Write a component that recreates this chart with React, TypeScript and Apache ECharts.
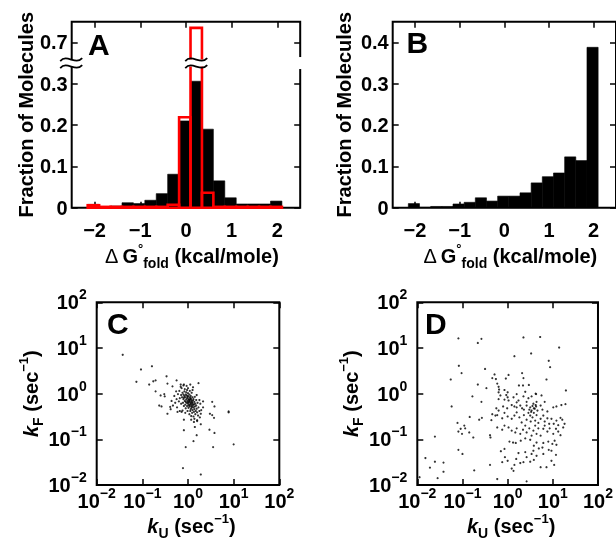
import React, { useEffect, useRef } from "react";
import * as echarts from "echarts";

// ---------------- data ----------------
const binEdges = [-2.15, -1.9, -1.65, -1.4, -1.15, -0.9, -0.65, -0.4, -0.15, 0.1, 0.35, 0.6, 0.85, 1.1, 1.35, 1.6, 1.85, 2.1];
const fracA_black = [0.008, 0.002, 0.004, 0.012, 0.01, 0.018, 0.034, 0.081, 0.21, 0.306, 0.19, 0.065, 0.024, 0.009, 0.009, 0.009, 0.016];
const fracA_red = [0.006, 0.002, 0.002, 0.002, 0.002, 0.002, 0.002, 0.007, 0.219, 0.735, 0.036, 0.002, 0.002, 0.002, 0.002, 0.002, 0.002];
const fracB = [0.01, 0.001, 0.003, 0.003, 0.009, 0.013, 0.024, 0.016, 0.028, 0.028, 0.036, 0.06, 0.075, 0.084, 0.123, 0.114, 0.388];
const xTickVals = [-2, -1, 0, 1, 2];
const yTickValsA = [0, 0.1, 0.2, 0.3, 0.7];
const yTickValsB = [0, 0.1, 0.2, 0.3, 0.4];
const BREAK_AT = 0.35; // axis A is broken just above 0.35
const BREAK_SHIFT = 0.3; // values above the break are plotted 0.3 lower

// [log10 kU, log10 kF]
const logRatesC: number[][] = [
  [-1.43, 0.85], [-0.79, 0.6], [-1.03, 0.53], [-1.13, 0.26], [-0.76, 0.27], [-0.71, 0.29], [-0.85, 0.2], [-0.47, 0.38],
  [-0.25, 0.29], [-0.34, 0.16], [-0.45, 0.22], [-0.16, 0.2], [-0.09, 0.2], [0.23, 0.23], [-0.71, 0.05], [-0.6, -0.04],
  [-0.52, -0.01], [-0.51, -0.06], [-0.63, -0.26], [-0.58, -0.28], [-0.39, -0.29], [-0.38, -0.34], [-0.45, -0.44], [-0.23, -0.4],
  [-0.14, -0.4], [0.33, -0.17], [0.53, -0.18], [0.58, -0.28], [0.48, -0.44], [0.53, -0.47], [0.57, -0.53], [0.89, -0.39],
  [0.89, -0.41], [-0.09, -0.57], [0.07, -0.57], [0.13, -0.62], [0.2, -0.6], [0.28, -0.67], [0.15, -0.73], [-0.09, -0.8],
  [0.47, -0.79], [0.58, -0.86], [0.19, -0.91], [0.12, -1.04], [-0.05, -1.17], [0.55, -1.17], [1.0, -1.11], [-0.11, -1.63],
  [0.28, -1.77],
  [-0.05, -0.02], [0.0, -0.05], [0.03, -0.08], [0.06, -0.1], [-0.02, -0.1], [0.01, -0.12], [0.04, -0.14], [0.08, -0.16],
  [-0.04, -0.13], [-0.01, -0.16], [0.02, -0.18], [0.05, -0.2], [0.09, -0.22], [-0.06, -0.08], [-0.08, -0.05], [-0.03, -0.2],
  [0.0, -0.22], [0.03, -0.24], [0.07, -0.26], [0.11, -0.25], [0.12, -0.3], [0.08, -0.31], [0.04, -0.28], [0.15, -0.28],
  [0.14, -0.34], [0.1, -0.36], [0.06, -0.34], [0.17, -0.38], [0.13, -0.4], [0.19, -0.33], [-0.1, -0.02], [-0.12, 0.02],
  [-0.08, 0.05], [-0.04, 0.03], [0.0, 0.01], [0.03, -0.02], [0.06, -0.05], [0.1, -0.08], [0.12, -0.12], [0.14, -0.18],
  [0.1, -0.19], [0.16, -0.22], [-0.07, -0.16], [-0.1, -0.12], [-0.13, -0.08], [-0.15, -0.03], [-0.11, -0.2], [-0.06, -0.24],
  [-0.02, -0.27], [0.01, -0.31], [0.05, -0.38], [0.09, -0.42], [0.02, -0.14], [0.05, -0.11], [-0.01, -0.07], [0.07, -0.13],
  [0.04, -0.17], [0.0, -0.19], [-0.03, -0.04], [0.08, -0.19], [0.11, -0.15], [0.13, -0.23], [0.06, -0.23], [-0.05, -0.18],
  [-0.09, -0.09], [0.02, -0.26], [0.09, -0.28], [0.18, -0.26], [0.2, -0.41], [0.16, -0.45], [0.22, -0.48], [0.12, -0.5],
  [0.25, -0.38], [0.23, -0.3], [0.18, -0.14], [0.21, -0.2], [0.15, -0.07], [0.08, 0.02], [0.04, 0.06], [-0.02, 0.08],
  [-0.07, 0.1], [-0.14, 0.12], [-0.19, 0.06], [-0.22, -0.01], [-0.18, -0.1], [-0.2, -0.17], [-0.15, -0.22], [-0.09, -0.27],
  [-0.05, -0.32], [-0.01, -0.38], [0.03, -0.45], [0.07, -0.49], [0.14, -0.55], [0.2, -0.58], [0.26, -0.52], [0.28, -0.44],
  [-0.25, -0.12], [-0.28, -0.2], [-0.3, -0.05], [-0.26, 0.05], [-0.16, 0.15], [-0.1, 0.18], [0.0, 0.12], [0.1, 0.08],
  [0.19, -0.03], [0.25, -0.14], [0.27, -0.22], [-0.33, -0.26], [-0.36, -0.16], [-0.24, -0.3], [0.29, -0.36], [0.33, -0.3],
  [0.11, 0.14], [-0.03, 0.17], [0.05, 0.2], [-0.12, -0.37], [-0.18, -0.38], [-0.06, -0.42],
];

const logRatesD: number[][] = [
  [-1.09, 1.21], [-0.58, 1.2], [-0.66, 1.11], [0.35, 1.23], [0.72, 1.24], [1.14, 1.01], [0.15, 0.82], [0.52, 0.88],
  [0.91, 0.72], [0.94, 0.58], [-1.08, 0.61], [-1.02, 0.45], [-1.26, 0.31], [-0.5, 0.54], [-0.29, 0.42], [-0.26, 0.32],
  [-0.34, 0.34], [0.02, 0.41], [-0.04, 0.33], [0.32, 0.45], [0.35, 0.34], [0.86, 0.31], [-0.66, 0.2], [-0.47, 0.12],
  [-0.23, 0.22], [-0.2, 0.15], [-0.19, 0.09], [-0.2, 0.03], [-0.07, 0.08], [0.0, 0.03], [0.25, 0.18], [0.34, 0.18],
  [0.47, 0.19], [0.39, 0.04], [0.62, 0.0], [1.29, 0.07],
  [-0.16, -0.04], [-0.03, -0.03], [0.0, -0.08], [-0.2, -0.12], [-0.07, -0.13], [0.02, -0.15], [0.13, -0.08], [0.2, -0.01],
  [0.35, -0.06], [0.24, -0.15], [0.46, -0.1], [0.53, -0.06], [0.63, -0.01], [0.75, -0.04], [-0.78, -0.06], [-0.58, -0.18],
  [0.2, -0.19], [0.42, -0.18], [0.64, -0.18], [0.82, -0.18],
  [-1.24, -0.28], [-0.25, -0.32], [-0.2, -0.37], [-0.1, -0.28], [-0.01, -0.32], [0.09, -0.25], [0.15, -0.28], [0.2, -0.3],
  [0.28, -0.26], [0.32, -0.32], [0.36, -0.35], [0.42, -0.26], [0.5, -0.3], [0.53, -0.37], [0.58, -0.32], [0.63, -0.28],
  [0.66, -0.37], [0.73, -0.26], [0.77, -0.35], [0.88, -0.39], [1.01, -0.3], [1.08, -0.28], [1.19, -0.25], [1.28, -0.23],
  [-0.34, -0.45], [-0.27, -0.48], [0.55, -0.27], [0.6, -0.33], [0.52, -0.4], [0.57, -0.22], [0.48, -0.35], [0.62, -0.25],
  [-0.84, -0.51], [-0.63, -0.57], [-0.57, -0.53], [-0.36, -0.58], [-0.23, -0.47], [-0.12, -0.54], [-0.07, -0.42], [0.0, -0.5],
  [0.09, -0.55], [0.15, -0.48], [0.2, -0.41], [0.26, -0.52], [0.31, -0.63], [0.36, -0.47], [0.42, -0.57], [0.46, -0.42],
  [0.5, -0.48], [0.51, -0.61], [0.55, -0.52], [0.58, -0.42], [0.61, -0.59], [0.64, -0.47], [0.68, -0.64], [0.73, -0.55],
  [0.79, -0.48], [0.82, -0.61], [0.88, -0.54], [0.92, -0.66], [0.97, -0.55], [1.02, -0.66], [1.08, -0.59], [1.12, -0.69],
  [1.17, -0.53], [1.21, -0.57], [1.26, -0.66], [-1.11, -0.64], [-0.96, -0.7],
  [-1.04, -0.77], [-0.94, -0.76], [-1.09, -0.83], [-1.01, -0.88], [-0.85, -0.85], [-0.76, -0.96], [-0.39, -0.91], [-0.38, -0.96],
  [-0.23, -0.74], [-0.12, -0.79], [-0.07, -0.7], [0.02, -0.74], [0.09, -0.81], [0.17, -0.85], [0.2, -0.76], [0.28, -0.88],
  [0.34, -0.79], [0.39, -0.7], [0.42, -0.85], [0.48, -0.76], [0.53, -0.92], [0.57, -0.81], [0.61, -0.7], [0.64, -0.88],
  [0.68, -0.76], [0.73, -0.92], [0.79, -0.77], [0.82, -0.7], [0.88, -0.83], [0.93, -0.76], [1.01, -0.88], [1.07, -0.77],
  [1.12, -0.83], [1.17, -0.91], [1.23, -0.74], [-1.61, -0.94],
  [0.04, -1.05], [0.12, -1.07], [0.18, -1.08], [0.29, -1.03], [0.39, -0.98], [0.5, -1.01], [0.58, -1.14], [0.64, -1.07],
  [0.69, -1.2], [0.77, -1.18], [0.79, -1.08], [0.9, -1.05], [0.99, -1.1], [1.04, -1.03], [1.08, -1.12], [0.57, -1.25],
  [0.79, -1.32], [0.91, -1.23], [0.97, -1.25], [1.07, -1.34], [0.24, -1.3], [0.39, -1.28], [0.53, -1.32], [-1.09, -1.23],
  [-1.0, -1.32], [-0.15, -1.26], [-0.07, -1.21],
  [-1.82, -1.41], [-1.61, -1.49], [-1.42, -1.51], [-1.72, -1.62], [-1.42, -1.71], [-0.39, -1.56], [-0.06, -1.39], [0.0, -1.47],
  [-0.12, -1.5], [0.15, -1.56], [0.09, -1.64], [0.19, -1.43], [0.28, -1.52], [0.35, -1.5], [0.42, -1.39], [0.5, -1.49],
  [0.58, -1.45], [0.64, -1.36], [0.73, -1.61], [0.86, -1.61], [0.97, -1.47], [1.03, -1.56], [-0.74, -1.68], [0.13, -1.69],
  [-1.95, -1.83], [-1.55, -1.85], [-0.23, -1.87], [0.42, -1.92],
];

// ---------------- helpers ----------------
const FONT = "'Liberation Sans', Arial, Helvetica, sans-serif";
const toDisp = (v: number) => (v > BREAK_AT ? v - BREAK_SHIFT : v);
const fromDisp = (d: number) => (d > BREAK_AT ? d + BREAK_SHIFT : d);
const fmtMinus = (v: number) => (v < 0 ? "\u2212" + Math.abs(v) : String(v));
const fmtNum = (v: number) => (Math.abs(v) < 1e-9 ? "0" : v.toFixed(1));
const fmtFracA = (d: number) => fmtNum(fromDisp(d));
const fmtLog = (v: number) => {
  const e = Math.round(Math.log10(v));
  return `{m|10}{s|${e < 0 ? "\u2212" + -e : e}}`;
};
const toRates = (arr: number[][]) => arr.map(([a, b]) => [Math.pow(10, a), Math.pow(10, b)]);
const bins = (vals: number[], tf: (v: number) => number) =>
  vals.map((v, i) => [binEdges[i], binEdges[i + 1], tf(v)]);

const tickStyle = { color: "#000", width: 1.5 };
const lbl = { fontSize: 20, fontWeight: "bold" as const, color: "#000", fontFamily: FONT };
const logRich = {
  m: { fontSize: 20, fontWeight: "bold", lineHeight: 30, color: "#000", fontFamily: FONT },
  s: { fontSize: 14, fontWeight: "bold", lineHeight: 12, verticalAlign: "top", color: "#000", fontFamily: FONT },
};
const titleRich = {
  m: { fontSize: 20, fontWeight: "bold", lineHeight: 28, color: "#000", fontFamily: FONT },
  d: { fontSize: 20, fontWeight: "normal", lineHeight: 28, color: "#000", fontFamily: FONT },
  k: { fontSize: 20, fontWeight: "bold", fontStyle: "italic", lineHeight: 28, color: "#000", fontFamily: FONT },
  sub: { fontSize: 14, fontWeight: "bold", lineHeight: 14, verticalAlign: "bottom", color: "#000", fontFamily: FONT },
  sup: { fontSize: 13, fontWeight: "bold", lineHeight: 12, verticalAlign: "top", color: "#000", fontFamily: FONT },
};
const noLine = { show: false, onZero: false };

const valX = (grid: number, pos: "bottom" | "top", name?: string) => ({
  type: "value",
  gridIndex: grid,
  position: pos,
  min: -2.5,
  max: 2.5,
  axisLine: noLine,
  splitLine: { show: false },
  axisTick: { show: true, inside: true, length: 6, customValues: xTickVals, lineStyle: tickStyle },
  axisLabel: pos === "bottom"
    ? { show: true, customValues: xTickVals, formatter: fmtMinus, margin: 12, ...lbl }
    : { show: false },
  name: name ? "{d|\u0394}{m|\u2009G}{sup|\u00b0}{sub|fold}{m| (kcal/mole)}" : undefined,
  nameLocation: "middle",
  nameGap: 34,
  nameTextStyle: { rich: titleRich, padding: [0, 0, 0, 12] },
});

const valY = (
  grid: number,
  pos: "left" | "right",
  ticks: number[],
  fmt: (v: number) => string,
  name?: boolean,
  gap = 28
) => ({
  type: "value",
  gridIndex: grid,
  position: pos,
  min: 0,
  max: 0.45,
  axisLine: noLine,
  splitLine: { show: false },
  axisTick: { show: true, inside: true, length: 6, customValues: ticks, lineStyle: tickStyle },
  axisLabel: pos === "left"
    ? { show: true, customValues: ticks, formatter: fmt, margin: 4, ...lbl }
    : { show: false },
  name: name ? "Fraction of Molecules" : undefined,
  nameLocation: "middle",
  nameRotate: 90,
  nameGap: gap,
  nameTextStyle: { fontSize: 20, fontWeight: "bold", color: "#000", fontFamily: FONT },
});

const logAxis = (grid: number, pos: string, kind: "x" | "y", gap = 0) => {
  const primary = pos === "bottom" || pos === "left";
  return {
    type: "log",
    logBase: 10,
    gridIndex: grid,
    position: pos,
    min: 0.01,
    max: 100,
    axisLine: noLine,
    splitLine: { show: false },
    minorTick: { show: false },
    axisTick: { show: true, inside: true, length: 6, lineStyle: tickStyle },
    axisLabel: primary
      ? { show: true, formatter: fmtLog, margin: kind === "x" ? 1 : 10, rich: logRich }
      : { show: false },
    name: primary
      ? kind === "x"
        ? "{k|k}{sub|U}{m| (sec}{sup|\u22121}{m|)}"
        : "{k|k}{sub|F}{m| (sec}{sup|\u22121}{m|)}"
      : undefined,
    nameLocation: "middle",
    nameRotate: kind === "y" ? 90 : 0,
    nameGap: gap,
    nameTextStyle: { rich: titleRich, padding: kind === "x" ? [0, 0, 0, 7] : 0 },
  };
};

const histSeries = (xi: number, yi: number, data: number[][], red: boolean) => ({
  type: "custom",
  xAxisIndex: xi,
  yAxisIndex: yi,
  clip: false,
  silent: true,
  z: red ? 4 : 3,
  encode: { x: [0, 1], y: 2 },
  data,
  renderItem: (_p: any, api: any) => {
    const p0 = api.coord([api.value(0), api.value(2)]);
    const p1 = api.coord([api.value(1), 0]);
    return {
      type: "rect",
      shape: { x: p0[0], y: p0[1], width: p1[0] - p0[0], height: p1[1] - p0[1] },
      style: red
        ? { fill: "none", stroke: "#ff0000", lineWidth: 2.6 }
        : { fill: "#000", stroke: "#000", lineWidth: 0.6 },
    };
  },
});

const panelLetter = (t: string, x: number, y: number) => ({
  type: "text",
  x,
  y,
  z: 50,
  style: { text: t, fill: "#000", font: `bold 30px ${FONT}`, align: "left", verticalAlign: "middle" },
});

export default function App() {
  const ref = useRef<HTMLDivElement>(null);
  useEffect(() => {
    if (!ref.current) return;
    const chart = echarts.init(ref.current, null, { renderer: "svg" });
    const border = { show: true, borderColor: "#000", borderWidth: 2, backgroundColor: "transparent" };
    const option: any = {
      animation: false,
      grid: [
        { left: 71.7, top: 21.7, width: 228.5, height: 186, ...border },
        { left: 392.7, top: 21.7, width: 228, height: 186, ...border },
        { left: 96.7, top: 302.3, width: 182.6, height: 182.7, ...border },
        { left: 417.3, top: 302.3, width: 182, height: 182.7, ...border },
      ],
      xAxis: [
        valX(0, "bottom", "t"),
        valX(0, "top"),
        valX(1, "bottom", "t"),
        valX(1, "top"),
        logAxis(2, "bottom", "x", 17.5),
        logAxis(2, "top", "x"),
        logAxis(3, "bottom", "x", 17.5),
        logAxis(3, "top", "x"),
      ],
      yAxis: [
        valY(0, "left", yTickValsA.map(toDisp), fmtFracA, true, 28),
        valY(0, "right", yTickValsA.map(toDisp), fmtFracA),
        valY(1, "left", yTickValsB, fmtNum, true, 38.5),
        valY(1, "right", yTickValsB, fmtNum),
        logAxis(2, "left", "y", 46),
        logAxis(2, "right", "y"),
        logAxis(3, "left", "y", 46),
        logAxis(3, "right", "y"),
      ],
      series: [
        histSeries(0, 0, bins(fracA_black, toDisp), false),
        histSeries(0, 0, bins(fracA_red, toDisp), true),
        histSeries(2, 2, bins(fracB, (v) => v), false),
        {
          type: "scatter",
          xAxisIndex: 4,
          yAxisIndex: 4,
          symbol: "circle",
          symbolSize: 2.2,
          itemStyle: { color: "#000" },
          silent: true,
          data: toRates(logRatesC),
        },
        {
          type: "scatter",
          xAxisIndex: 6,
          yAxisIndex: 6,
          symbol: "circle",
          symbolSize: 2.2,
          itemStyle: { color: "#000" },
          silent: true,
          data: toRates(logRatesD),
        },
      ],
    };
    chart.setOption(option);

    // axis-break decorations for panel A, positioned through the chart's own scales
    const pL = chart.convertToPixel({ seriesIndex: 1 } as any, [-2.5, BREAK_AT]) as number[];
    const pR = chart.convertToPixel({ seriesIndex: 1 } as any, [2.5, BREAK_AT]) as number[];
    const pBar = chart.convertToPixel({ seriesIndex: 1 } as any, [(binEdges[9] + binEdges[10]) / 2, BREAK_AT]) as number[];
    const yb = pL[1];
    const gapH = 3.5;
    const wave = (cx: number, cy: number) => ({
      type: "bezierCurve",
      z: 102,
      shape: { x1: cx - 11, y1: cy + 1.5, cpx1: cx - 4, cpy1: cy - 6, cpx2: cx + 4, cpy2: cy + 6, x2: cx + 11, y2: cy - 1.5 },
      style: { stroke: "#000", lineWidth: 1.8, fill: null },
    });
    const breakMark = (cx: number) => [
      { type: "rect", z: 101, shape: { x: cx - 11, y: yb - gapH, width: 22, height: gapH * 2 }, style: { fill: "#fff" } },
      wave(cx, yb - gapH),
      wave(cx, yb + gapH),
    ];
    chart.setOption({
      graphic: [
        ...breakMark(pL[0] - 0.5),
        ...breakMark(pBar[0]),
        { type: "rect", z: 101, shape: { x: pR[0] - 2, y: yb - 6, width: 4, height: 12 }, style: { fill: "#fff" } },
        panelLetter("A", 88, 44),
        panelLetter("B", 406.5, 42.5),
        panelLetter("C", 107, 323),
        panelLetter("D", 425, 323),
      ],
    });
    return () => chart.dispose();
  }, []);
  return <div ref={ref} style={{ position: "fixed", left: 0, top: 0, width: 616, height: 548 }} />;
}
